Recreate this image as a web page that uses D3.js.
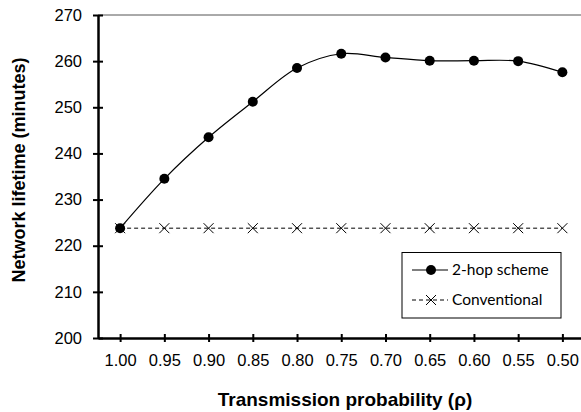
<!DOCTYPE html>
<html>
<head>
<meta charset="utf-8">
<script src="https://cdn.jsdelivr.net/npm/d3@7"></script>
<style>
  body { margin: 0; background: #fff; }
  svg { display: block; }
</style>
</head>
<body>
<svg id="chart" width="581" height="412"></svg>
<script>
// network lifetime vs transmission probability, two schemes

let probLabels = ["1.00", "0.95", "0.90", "0.85", "0.80", "0.75", "0.70", "0.65", "0.60", "0.55", "0.50"];
let twoHop = [223.8, 234.5, 243.5, 251.2, 258.5, 261.6, 260.8, 260.1, 260.1, 260.0, 257.6];
let conventional = [223.8, 223.8, 223.8, 223.8, 223.8, 223.8, 223.8, 223.8, 223.8, 223.8, 223.8];
let yTicks = [200, 210, 220, 230, 240, 250, 260, 270];
let seriesNames = ["2-hop scheme", "Conventional"];

let svg = d3.select("#chart");

let plotLeft = 98;
let plotTop = 15;
let plotBottom = 338;

let xScale = d3.scalePoint(probLabels, [plotLeft, 584.5]).padding(0.5);
let yScale = d3.scaleLinear([200, 270], [plotBottom, plotTop]);

// top frame line (thin)
svg.append("line")
    .attr("x1", plotLeft).attr("x2", 581)
    .attr("y1", yScale(270)).attr("y2", yScale(270))
    .attr("stroke", "#555")
    .attr("stroke-width", 1);

// y axis
let yAxis = svg.append("g")
    .attr("transform", "translate(" + plotLeft + ",0)")
    .call(d3.axisLeft(yScale).tickValues(yTicks).tickSize(0).tickPadding(16));
yAxis.select(".domain").attr("stroke-width", 2.5);
yAxis.selectAll(".tick").append("line")
    .attr("x1", -5).attr("x2", 5)
    .attr("stroke", "#000").attr("stroke-width", 2);
yAxis.selectAll("text")
    .attr("font-family", "Liberation Sans, Arial, sans-serif")
    .attr("font-size", 16.5)
    .attr("fill", "#000");

// x axis
let xAxis = svg.append("g")
    .attr("transform", "translate(0," + plotBottom + ")")
    .call(d3.axisBottom(xScale).tickSize(0).tickPadding(16));
xAxis.select(".domain").attr("stroke-width", 2.5);
xAxis.selectAll(".tick").append("line")
    .attr("y1", -4).attr("y2", 4)
    .attr("stroke", "#000").attr("stroke-width", 2);
xAxis.selectAll("text")
    .attr("font-family", "Liberation Sans, Arial, sans-serif")
    .attr("font-size", 16.5)
    .attr("fill", "#000");

// axis titles
svg.append("text")
    .attr("x", 345).attr("y", 406)
    .attr("text-anchor", "middle")
    .attr("font-family", "Liberation Sans, Arial, sans-serif")
    .attr("font-weight", "bold")
    .attr("font-size", 19)
    .text("Transmission probability (ρ)");

svg.append("text")
    .attr("transform", "translate(25,170)rotate(-90)")
    .attr("text-anchor", "middle")
    .attr("font-family", "Liberation Sans, Arial, sans-serif")
    .attr("font-weight", "bold")
    .attr("font-size", 18)
    .text("Network lifetime (minutes)");

// conventional dashed line
let straight = d3.line()
    .x((d, i) => xScale(probLabels[i]))
    .y(d => yScale(d));

svg.append("path")
    .datum(conventional)
    .attr("d", straight)
    .attr("fill", "none")
    .attr("stroke", "#000")
    .attr("stroke-width", 1)
    .attr("stroke-dasharray", "4,3");

let crossSize = 5;
function drawCross(g, x, y) {
    g.append("path")
        .attr("d", "M" + (x - crossSize) + "," + (y - crossSize) + "L" + (x + crossSize) + "," + (y + crossSize) +
                   "M" + (x - crossSize) + "," + (y + crossSize) + "L" + (x + crossSize) + "," + (y - crossSize))
        .attr("stroke", "#000")
        .attr("stroke-width", 1)
        .attr("fill", "none");
}

let crossG = svg.append("g");
conventional.forEach((v, i) => drawCross(crossG, xScale(probLabels[i]), yScale(v)));

// 2-hop smooth line
let smooth = d3.line()
    .x((d, i) => xScale(probLabels[i]))
    .y(d => yScale(d))
    .curve(d3.curveCatmullRom.alpha(0.5));

svg.append("path")
    .datum(twoHop)
    .attr("d", smooth)
    .attr("fill", "none")
    .attr("stroke", "#000")
    .attr("stroke-width", 1.2);

svg.selectAll(".dot")
    .data(twoHop)
    .join("circle")
    .attr("class", "dot")
    .attr("cx", (d, i) => xScale(probLabels[i]))
    .attr("cy", d => yScale(d))
    .attr("r", 5)
    .attr("fill", "#000");

// legend
let legend = svg.append("g");
legend.append("rect")
    .attr("x", 402).attr("y", 252.5)
    .attr("width", 159).attr("height", 65.5)
    .attr("fill", "#fff")
    .attr("stroke", "#000")
    .attr("stroke-width", 1);

let lx1 = 412, lx2 = 448, lmid = 431;
legend.append("line")
    .attr("x1", lx1).attr("x2", lx2).attr("y1", 270).attr("y2", 270)
    .attr("stroke", "#000").attr("stroke-width", 1.2);
legend.append("circle")
    .attr("cx", lmid).attr("cy", 270).attr("r", 5).attr("fill", "#000");
legend.append("line")
    .attr("x1", lx1).attr("x2", lx2).attr("y1", 300).attr("y2", 300)
    .attr("stroke", "#000").attr("stroke-width", 1).attr("stroke-dasharray", "4,3");
drawCross(legend, lmid, 300);

legend.selectAll(".ltext")
    .data(seriesNames)
    .join("text")
    .attr("class", "ltext")
    .attr("x", 452)
    .attr("y", (d, i) => 270 + i * 30)
    .attr("dy", "0.35em")
    .attr("font-family", "Lato, Open Sans, sans-serif")
    .attr("font-size", 15.5)
    .attr("fill", "#000")
    .text(d => d);
</script>
</body>
</html>
